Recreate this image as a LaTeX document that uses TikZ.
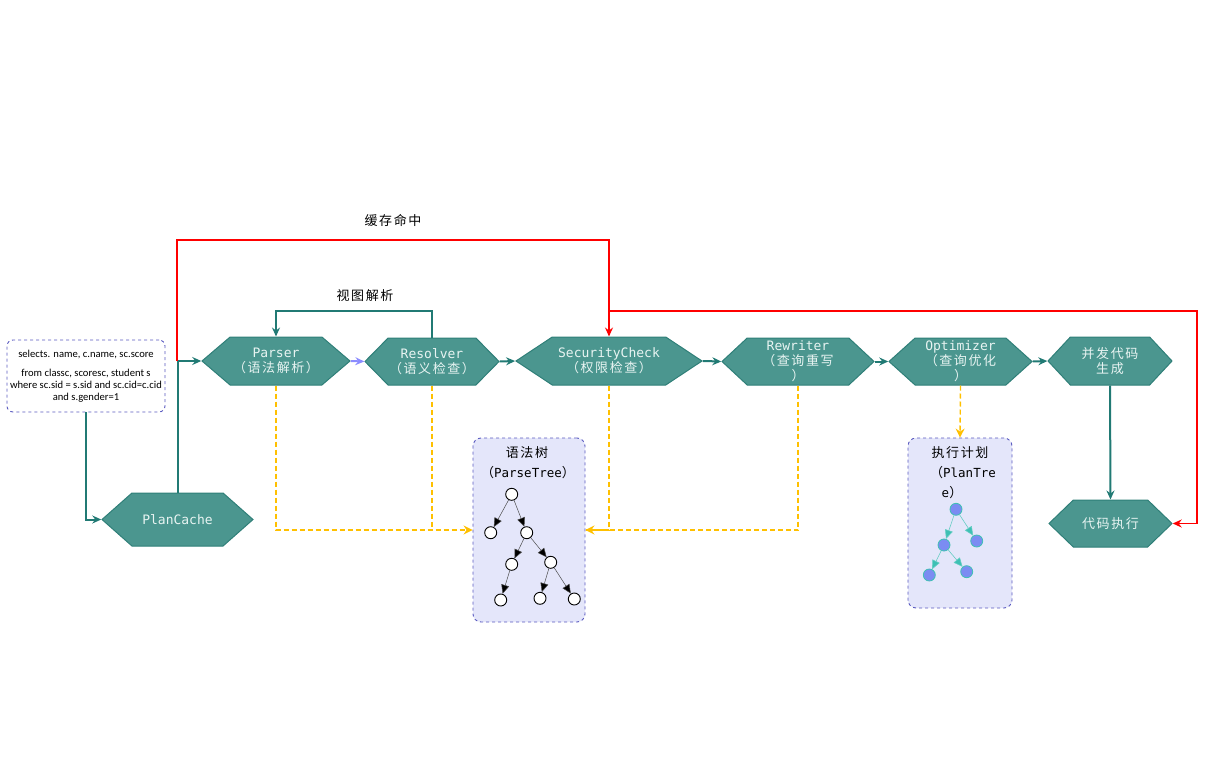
\documentclass[tikz,border=0pt]{standalone}
\usepackage{fontspec}
\setmainfont{Carlito}
\newfontfamily\cjk[LetterSpace=12]{Noto Sans CJK SC}
\newfontfamily\mono{DejaVu Sans Mono}
\usetikzlibrary{shapes.symbols,arrows.meta}
\definecolor{hexfill}{HTML}{4B968F}
\definecolor{hexdraw}{HTML}{2F7F78}
\definecolor{hextext}{HTML}{E8F4F2}
\definecolor{tealline}{HTML}{217A74}
\definecolor{lavline}{HTML}{8C8CFF}
\definecolor{yline}{HTML}{FFC000}
\definecolor{boxdraw}{HTML}{5A5AC0}
\definecolor{boxfill}{HTML}{E4E6FA}
\definecolor{pnode}{HTML}{7B8CF2}
\definecolor{pedge}{HTML}{3EC0B4}
\begin{document}
\begin{tikzpicture}[x=1pt,y=-1pt,
  hexa/.style={signal, signal to=east and west, draw=hexdraw, fill=hexfill,
    line width=1pt, text=hextext, inner sep=0pt, align=center,
    font=\fontsize{13}{15}\selectfont},
  tline/.style={draw=tealline, line width=2pt, -{Stealth[length=9pt,width=8pt,inset=3pt]}},
  rline/.style={draw=red, line width=1.8pt},
  ydash/.style={draw=yline, line width=1.4pt, dash pattern=on 5pt off 3pt},
  yarrow/.style={ydash, -{Stealth[length=9pt,width=9pt,inset=3pt]}},
  treebox/.style={draw=boxdraw, fill=boxfill, dashed, line width=0.9pt, rounded corners=8pt},
  tnode/.style={circle, draw=black, fill=white, line width=0.9pt, minimum size=12pt, inner sep=0pt},
  tedge/.style={draw=black!70, line width=0.5pt, -{Triangle[length=9pt,width=8pt,fill=black]}},
  pn/.style={circle, draw=pedge, fill=pnode, line width=0.8pt, minimum size=12pt, inner sep=0pt},
  pe/.style={draw=pedge!80, line width=0.6pt, -{Triangle[length=9pt,width=8pt,fill=pedge]}},
  lbl/.style={font=\cjk\fontsize{13}{15}\selectfont, text=black}
]
\useasboundingbox (0,0) rectangle (1208,760);

% SQL box
\node[draw=boxdraw, dashed, rounded corners=6pt, line width=0.9pt, fill=white,
  minimum width=158pt, minimum height=72pt, inner sep=0pt, align=center,
  font=\fontsize{10.6}{12}\selectfont] (sql) at (86,376)
  {selects. name, c.name, sc.score\\[7pt]from classc, scoresc, student s\\where sc.sid = s.sid and sc.cid=c.cid\\and s.gender=1};

% hexagons
\node[hexa, minimum width=151pt, minimum height=53pt, signal pointer angle=83] (plancache) at (177.5,519.5) {\mono PlanCache};
\node[hexa, minimum width=148pt, minimum height=48pt, signal pointer angle=81] (parser) at (276,361) {{\mono Parser}\\{\cjk （语法解析）}};
\node[hexa, minimum width=134pt, minimum height=47pt, signal pointer angle=91] (resolver) at (432,361.5) {{\mono Resolver}\\{\cjk （语义检查）}};
\node[hexa, minimum width=186pt, minimum height=48pt, signal pointer angle=67] (sec) at (609,361) {{\mono SecurityCheck}\\{\cjk （权限检查）}};
\node[hexa, minimum width=152pt, minimum height=47pt, signal pointer angle=86] (rew) at (798,361.5) {{\mono Rewriter}\\{\cjk （查询重写}\\{\cjk ）}};
\node[hexa, minimum width=143pt, minimum height=47pt, signal pointer angle=84] (opt) at (960.5,361.5) {{\mono Optimizer}\\{\cjk （查询优化}\\{\cjk ）}};
\node[hexa, minimum width=124pt, minimum height=48pt, signal pointer angle=94] (gen) at (1110,361) {{\cjk 并发代码}\\{\cjk 生成}};
\node[hexa, minimum width=123pt, minimum height=47pt, signal pointer angle=88] (exec) at (1110.5,523.5) {\cjk 代码执行};

% tree boxes
\node[treebox, minimum width=112pt, minimum height=184pt] (ptree) at (529,530) {};
\node[treebox, minimum width=104pt, minimum height=170pt] (plan) at (960,523) {};
\node[lbl, anchor=center] (pt1) at (527,453) {语法树};
\node[lbl, anchor=center] (pt2) at (528,473) {（{\mono\fontsize{12.5}{14}\selectfont ParseTree}）};
\node[lbl, anchor=center] (pl1) at (960,453) {执行计划};
\node[lbl, anchor=center] (pl2) at (963,473) {（{\mono\fontsize{12.5}{14}\selectfont PlanTre}};
\node[lbl, anchor=center] (pl3) at (952,493) {{\mono\fontsize{12.5}{14}\selectfont e}）};

% parse tree
\node[tnode] (a) at (511.7,494.3) {};
\node[tnode] (b) at (490.7,532.7) {};
\node[tnode] (c) at (526.7,532.7) {};
\node[tnode] (d) at (511.7,564.3) {};
\node[tnode] (e) at (550.7,562.3) {};
\node[tnode] (f) at (500.7,600) {};
\node[tnode] (g) at (540,598.3) {};
\node[tnode] (h) at (574.3,599) {};
\draw[tedge] (a) -- (b);
\draw[tedge] (a) -- (c);
\draw[tedge] (c) -- (d);
\draw[tedge] (c) -- (e);
\draw[tedge] (d) -- (f);
\draw[tedge] (e) -- (g);
\draw[tedge] (e) -- (h);

% plan tree
\node[pn] (p1) at (956,509.3) {};
\node[pn] (p2) at (944,545) {};
\node[pn] (p3) at (976.7,541) {};
\node[pn] (p4) at (929.3,575) {};
\node[pn] (p5) at (966.7,571.7) {};
\draw[pe] (p1) -- (p2);
\draw[pe] (p1) -- (p3);
\draw[pe] (p2) -- (p4);
\draw[pe] (p2) -- (p5);

% teal connectors
\draw[tline] (sql.south) |- (plancache.west);
\draw[tline] (plancache.north) |- (parser.west);
\draw[draw=lavline, line width=2pt, -{Stealth[length=9pt,width=8pt,inset=3pt]}] (parser.east) -- (resolver.west);
\draw[tline] (resolver.east) -- (sec.west);
\draw[tline] (sec.east) -- (rew.west);
\draw[tline] (rew.east) -- (opt.west);
\draw[tline] (opt.east) -- (gen.west);
\draw[tline] (gen.south) -- (exec.north);
\coordinate (loopR) at (432,311);
\coordinate (loopL) at (276,311);
\draw[tline] (resolver.north) -- (loopR) -- (loopL) -- (parser.north);
\node[lbl] (viewlbl) at (365,296) {视图解析};

% red connectors
\coordinate (j1) at (177,361);
\coordinate (r1) at (177,240);
\coordinate (r2) at (609,240);
\draw[rline, -{Stealth[length=9pt,width=8pt,inset=3pt]}] (j1) -- (r1) -- (r2) -- (sec.north);
\coordinate (r3) at (609,311);
\coordinate (r4) at (1197,311);
\draw[rline, -{Stealth[length=9pt,width=8pt,inset=3pt]}] (r3) -- (r4) |- (exec.east);
\node[lbl] (cachelbl) at (393,220) {缓存命中};

% yellow dashed
\draw[yarrow] (parser.south) |- (ptree.west);
\draw[ydash] (resolver.south) -- (resolver.south |- ptree.west);
\draw[yarrow] (sec.south) |- (ptree.east);
\draw[ydash] (rew.south) |- (ptree.east);
\draw[yarrow] (opt.south) -- (plan.north);
\end{tikzpicture}
\end{document}
